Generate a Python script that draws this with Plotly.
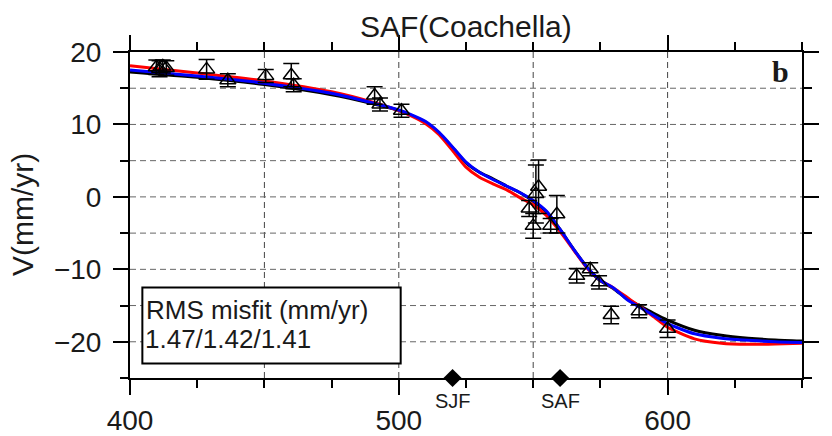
import plotly.graph_objects as go

# ---------------- data ----------------
curve_x = [400, 425, 450, 475, 490, 500, 505, 510, 515, 520, 525, 530, 535, 540, 545,
           550, 555, 560, 565, 570, 575, 580, 585, 590, 595, 600, 610, 620, 630, 640, 650]
model_red = [18.1, 17.1, 16.0, 14.5, 13.1, 11.9, 11.1, 10.1, 8.6, 6.4, 4.1, 2.7, 1.8, 1.0, -0.1,
             -1.1, -2.6, -4.8, -7.3, -9.8, -11.5, -12.6, -13.9, -15.2, -16.6, -18.0, -19.6, -20.2, -20.35, -20.3, -20.2]
model_blue = [17.5, 16.7, 15.7, 14.3, 13.0, 12.0, 11.3, 10.4, 8.9, 6.9, 4.8, 3.4, 2.4, 1.5, 0.6,
              -0.5, -2.0, -4.5, -7.2, -9.7, -11.5, -12.6, -14.2, -15.3, -16.4, -17.5, -18.9, -19.5, -19.8, -20.0, -20.1]
model_black = [17.25, 16.5, 15.5, 14.1, 12.9, 11.95, 11.2, 10.3, 8.8, 6.8, 4.7, 3.4, 2.5, 1.5, 0.6,
               -0.6, -2.1, -4.5, -7.2, -9.7, -11.6, -12.7, -14.1, -15.1, -16.1, -17.0, -18.4, -19.1, -19.5, -19.75, -19.9]

obs_x = [409.8, 411.0, 412.2, 413.5, 428.5, 436.4, 450.5, 460.0, 460.9, 491.0, 493.0, 501.0,
         548.5, 550.0, 551.0, 552.0, 556.5, 558.8,
         566.2, 571.2, 574.5, 579.0, 589.4, 600.0]
obs_v = [17.9, 17.7, 18.0, 17.8, 17.6, 16.1, 16.7, 16.8, 15.4, 14.0, 12.75, 11.9,
         -1.6, -4.0, 0.4, 1.4, -4.0, -2.4,
         -10.9, -10.0, -11.8, -16.3, -15.8, -18.2]
obs_err = [1.0, 1.1, 0.9, 1.0, 1.35, 0.9, 0.9, 1.6, 0.9, 1.2, 0.9, 0.9,
           1.1, 1.7, 4.0, 3.7, 1.0, 2.6,
           1.0, 0.9, 0.9, 1.2, 0.9, 1.2]

fault_x = [520, 560]
fault_names = ["SJF", "SAF"]

x_ticks = [400, 500, 600]
y_ticks = [-20, -10, 0, 10, 20]
grid_x = [450, 500, 550, 600]
grid_y = [-20, -15, -10, -5, 0, 5, 10, 15]

title_text = "SAF(Coachella)"
ytitle_text = "V(mm/yr)"
misfit_head = "RMS misfit (mm/yr)"
misfit_vals = "1.47/1.42/1.41"
panel_label = "b"

# ---------------- figure ----------------
FONT = "Liberation Sans, Arial, Helvetica, sans-serif"
fig = go.Figure()

for yv, col in [(model_black, "black"), (model_red, "#ff0000"), (model_blue, "#0000ff")]:
    fig.add_trace(go.Scatter(x=curve_x, y=yv, mode="lines",
                             line=dict(color=col, width=3, shape="spline", smoothing=0.6),
                             showlegend=False, hoverinfo="skip"))

fig.add_trace(go.Scatter(
    x=obs_x, y=obs_v, mode="markers",
    marker=dict(symbol="triangle-up-open", size=14, color="black", line=dict(color="black", width=1.5)),
    error_y=dict(type="data", array=obs_err, visible=True, color="black", thickness=1.5, width=8),
    showlegend=False))

fig.add_trace(go.Scatter(
    x=fault_x, y=[-25, -25], mode="markers", cliponaxis=False,
    marker=dict(symbol="diamond", size=14, color="black"), showlegend=False))

for gx in grid_x:
    fig.add_shape(type="line", xref="x", yref="paper", x0=gx, x1=gx, y0=0, y1=1,
                  line=dict(color="#444", width=1, dash="6px,4px"), layer="below")
for gy in grid_y:
    fig.add_shape(type="line", xref="paper", yref="y", x0=0, x1=1, y0=gy, y1=gy,
                  line=dict(color="#666", width=1, dash="6px,4px"), layer="below")

# misfit box
fig.add_shape(type="rect", xref="x", yref="y", x0=404.6, x1=500.7, y0=-23.0, y1=-12.5,
              line=dict(color="black", width=2), fillcolor="white", layer="above")
fig.add_annotation(x=405.3, y=-15.6, xref="x", yref="y", xanchor="left", yanchor="middle",
                   text=misfit_head, showarrow=False, font=dict(family=FONT, size=26, color="#1a1a1a"))
fig.add_annotation(x=405.0, y=-19.6, xref="x", yref="y", xanchor="left", yanchor="middle",
                   text=misfit_vals, showarrow=False, font=dict(family=FONT, size=26, color="#1a1a1a"))

for fx, fn in zip(fault_x, fault_names):
    fig.add_annotation(x=fx, y=-0.0706, xref="x", yref="paper",
                       xanchor="center", yanchor="middle",
                       text=fn, showarrow=False, font=dict(family=FONT, size=20, color="#1a1a1a"))

fig.add_annotation(x=0.5, y=1.078, xref="paper", yref="paper", xanchor="center", yanchor="middle",
                   text=title_text, showarrow=False, font=dict(family=FONT, size=30, color="#1a1a1a"))
fig.add_annotation(x=-0.1607, y=0.5, xref="paper", yref="paper", xanchor="center", yanchor="middle",
                   text=ytitle_text, textangle=-90, showarrow=False,
                   font=dict(family=FONT, size=30, color="#1a1a1a"))
fig.add_annotation(x=0.983, y=0.94, xref="paper", yref="paper", xanchor="right", yanchor="middle",
                   text="<b>" + panel_label + "</b>", showarrow=False,
                   font=dict(family="Liberation Serif, Times New Roman, serif", size=30, color="#1a1a1a"))

axis_common = dict(showline=True, linecolor="black", linewidth=2, mirror="allticks",
                   ticks="outside", ticklen=15, tickwidth=1.5, tickcolor="black",
                   showgrid=False, zeroline=False, automargin=False,
                   tickfont=dict(family=FONT, size=28, color="#1a1a1a"))

fig.update_xaxes(range=[400, 650], tickvals=x_ticks, ticktext=[str(v) for v in x_ticks],
                 minor=dict(dtick=25, tick0=400, ticklen=8, tickwidth=1.5, tickcolor="black", ticks="outside",
                            showgrid=False),
                 ticklabelstandoff=1, **axis_common)
fig.update_yaxes(range=[-25, 20], tickvals=y_ticks, ticktext=["\u221220", "\u221210", "0", "10", "20"],
                 minor=dict(dtick=5, tick0=0, ticklen=8, tickwidth=1.5, tickcolor="black", ticks="outside",
                            showgrid=False),
                 ticklabelstandoff=6, **axis_common)

fig.update_layout(width=832, height=436, margin=dict(l=130, r=30, t=52, b=58, pad=0),
                  paper_bgcolor="white", plot_bgcolor="white", showlegend=False,
                  font=dict(family=FONT, color="#1a1a1a"))

fig.write_html("out.html")
